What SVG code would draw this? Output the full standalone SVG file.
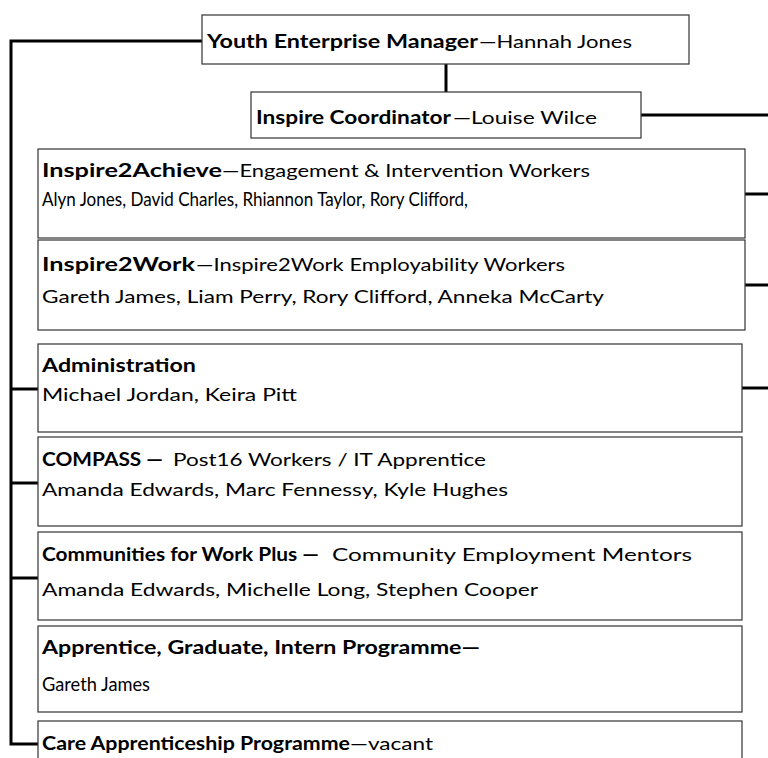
<svg xmlns="http://www.w3.org/2000/svg" width="768" height="758" viewBox="0 0 768 758">
  <style>
    .box { fill: #ffffff; stroke: #333333; stroke-width: 1.2; }
    .conn { fill: none; stroke: #000000; stroke-width: 3; stroke-linecap: butt; }
    text { font-family: Lato, "Open Sans", "Liberation Sans", sans-serif; font-size: 18px; fill: #000000; }
    .b { font-weight: bold; }
    .tight { font-size: 19.5px; }
  </style>
  <rect width="768" height="758" fill="#ffffff"/>

  <!-- reporting lines -->
  <g id="connectors">
    <polyline class="conn" points="202,41 11,41 11,744 38,744"/>
    <line class="conn" x1="11" y1="389" x2="38" y2="389"/>
    <line class="conn" x1="11" y1="483" x2="38" y2="483"/>
    <line class="conn" x1="11" y1="578" x2="38" y2="578"/>
    <line class="conn" x1="446" y1="64" x2="446" y2="92"/>
    <line class="conn" x1="641" y1="115" x2="768" y2="115"/>
    <line class="conn" x1="745" y1="194" x2="768" y2="194"/>
    <line class="conn" x1="745" y1="285" x2="768" y2="285"/>
    <line class="conn" x1="742" y1="388" x2="768" y2="388"/>
  </g>

  <g id="manager">
    <rect class="box" x="202" y="15" width="487" height="49"/>
    <text class="b" x="207" y="48" textLength="271" lengthAdjust="spacingAndGlyphs">Youth Enterprise Manager</text>
    <text x="479" y="48" textLength="153" lengthAdjust="spacingAndGlyphs">—Hannah Jones</text>
  </g>

  <g id="coordinator">
    <rect class="box" x="251" y="92" width="390" height="46"/>
    <text class="b" x="256" y="124" textLength="195" lengthAdjust="spacingAndGlyphs">Inspire Coordinator</text>
    <text x="453" y="124" textLength="144" lengthAdjust="spacingAndGlyphs">—Louise Wilce</text>
  </g>

  <g id="inspire2achieve">
    <rect class="box" x="38" y="149" width="707" height="89"/>
    <text class="b" x="42" y="177" textLength="180" lengthAdjust="spacingAndGlyphs">Inspire2Achieve</text>
    <text x="222" y="177" textLength="368" lengthAdjust="spacingAndGlyphs">—Engagement &amp; Intervention Workers</text>
    <text class="tight" x="42" y="206" textLength="426" lengthAdjust="spacingAndGlyphs">Alyn Jones, David Charles, Rhiannon Taylor, Rory Clifford,</text>
  </g>

  <g id="inspire2work">
    <rect class="box" x="38" y="240" width="707" height="90"/>
    <text class="b" x="42" y="271" textLength="153" lengthAdjust="spacingAndGlyphs">Inspire2Work</text>
    <text x="196" y="271" textLength="369" lengthAdjust="spacingAndGlyphs">—Inspire2Work Employability Workers</text>
    <text x="42" y="303" textLength="562" lengthAdjust="spacingAndGlyphs">Gareth James, Liam Perry, Rory Clifford, Anneka McCarty</text>
  </g>

  <g id="administration">
    <rect class="box" x="38" y="344" width="704" height="88"/>
    <text class="b" x="42" y="372" textLength="154" lengthAdjust="spacingAndGlyphs">Administration</text>
    <text x="42" y="401" textLength="255" lengthAdjust="spacingAndGlyphs">Michael Jordan, Keira Pitt</text>
  </g>

  <g id="compass">
    <rect class="box" x="38" y="437" width="704" height="89"/>
    <text class="b" x="42" y="466" textLength="121" lengthAdjust="spacingAndGlyphs">COMPASS —</text>
    <text x="173" y="466" textLength="313" lengthAdjust="spacingAndGlyphs">Post16 Workers / IT Apprentice</text>
    <text x="42" y="496" textLength="466" lengthAdjust="spacingAndGlyphs">Amanda Edwards, Marc Fennessy, Kyle Hughes</text>
  </g>

  <g id="communities">
    <rect class="box" x="38" y="532" width="704" height="88"/>
    <text class="b" x="42" y="561" textLength="277" lengthAdjust="spacingAndGlyphs">Communities for Work Plus —</text>
    <text x="332" y="561" textLength="360" lengthAdjust="spacingAndGlyphs">Community Employment Mentors</text>
    <text x="42" y="596" textLength="496" lengthAdjust="spacingAndGlyphs">Amanda Edwards, Michelle Long, Stephen Cooper</text>
  </g>

  <g id="apprentice">
    <rect class="box" x="38" y="626" width="704" height="86"/>
    <text class="b" x="42" y="654" textLength="438" lengthAdjust="spacingAndGlyphs">Apprentice, Graduate, Intern Programme—</text>
    <text class="tight" x="42" y="691" textLength="108" lengthAdjust="spacingAndGlyphs">Gareth James</text>
  </g>

  <g id="care">
    <rect class="box" x="38" y="721" width="704" height="60"/>
    <text class="b" x="42" y="750" textLength="308" lengthAdjust="spacingAndGlyphs">Care Apprenticeship Programme</text>
    <text x="350" y="750" textLength="83" lengthAdjust="spacingAndGlyphs">—vacant</text>
  </g>
</svg>
